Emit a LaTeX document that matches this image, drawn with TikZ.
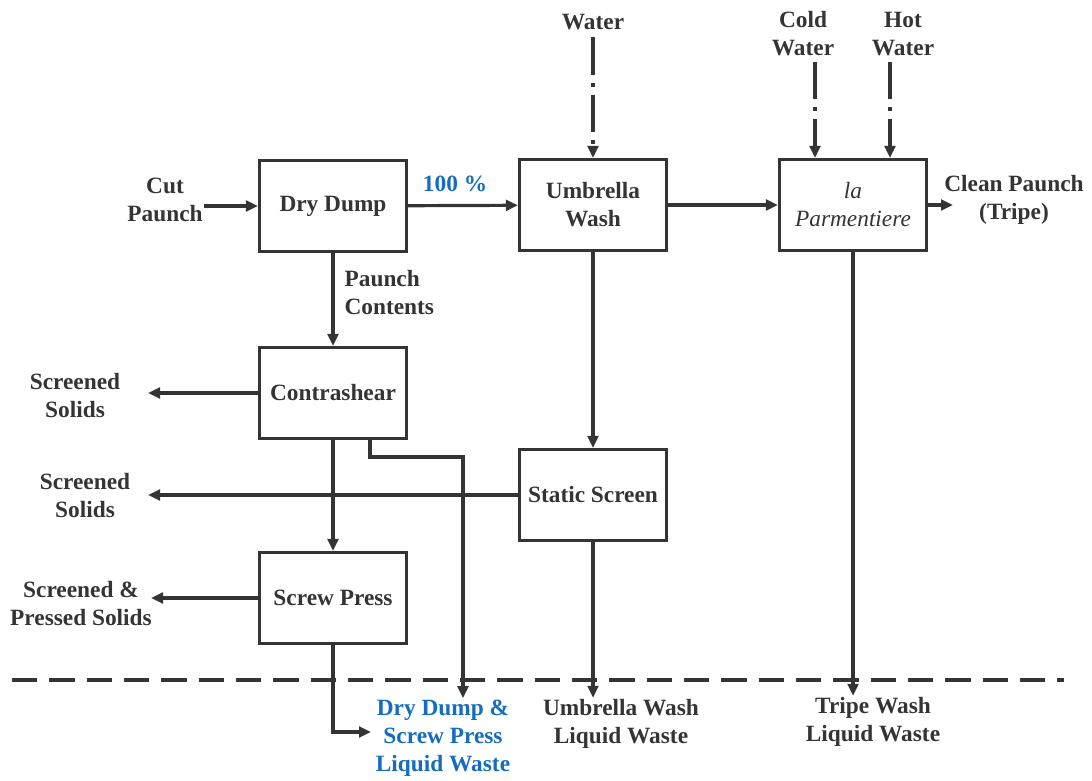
\documentclass[tikz,border=0pt]{standalone}
\usepackage{fontspec}
\setmainfont{Liberation Serif}
\usetikzlibrary{arrows.meta}
\definecolor{ink}{RGB}{52,52,52}
\definecolor{flowblue}{RGB}{22,108,190}
\begin{document}
\begin{tikzpicture}[x=0.75pt,y=-0.75pt,
  every node/.style={font=\fontsize{17.5}{21}\selectfont\bfseries, text=ink, align=center, inner sep=1pt},
  unit/.style={draw=ink, line width=2.6pt, minimum width=110pt, minimum height=68pt, inner sep=2pt},
  arr/.style={draw=ink, line width=2.4pt, -{Triangle[length=9pt,width=8pt]}},
  feed/.style={arr, dash pattern=on 28pt off 6pt on 3pt off 6pt},
  bluelbl/.style={text=flowblue}]
\useasboundingbox (0,0) rectangle (1092,781);

% process units
\node[unit] (dry)   at (333,206) {Dry Dump};
\node[unit] (umb)   at (593,205) {Umbrella\\Wash};
\node[unit] (parm)  at (853,205) {\normalfont\itshape la\\\normalfont\itshape Parmentiere};
\node[unit] (con)   at (333,393) {Contrashear};
\node[unit] (stat)  at (593,495) {Static Screen};
\node[unit] (screw) at (333,598) {Screw Press};

% stream labels
\node (cut)   at (165,200) {Cut\\Paunch};
\node[bluelbl] (pct) at (455,184) {100 \%};
\node (clean) at (1014,200) {Clean Paunch\\(Tripe)};
\node (water) at (593,22) {Water};
\node (cold)  at (803,34) {Cold\\Water};
\node (hot)   at (903,34) {Hot\\Water};
\node[anchor=west, align=left] (pc) at (343,293) {Paunch\\Contents};
\node (ss1)   at (75,396) {Screened\\Solids};
\node (ss2)   at (85,496) {Screened\\Solids};
\node (ssp)   at (81,604) {Screened \&\\Pressed Solids};
\node[bluelbl] (ddw) at (443,738) {Dry Dump \&\\Screw Press\\Liquid Waste};
\node (uww)   at (621,724) {Umbrella Wash\\Liquid Waste};
\node (tww)   at (873,722) {Tripe Wash\\Liquid Waste};

% helper points
\coordinate (cleanend) at (953,205);
\coordinate (cw) at (815,62);
\coordinate (hw) at (890,62);
\coordinate (solidsx) at (148,0);
\coordinate (pressx) at (151,0);
\coordinate (conout) at (370,440);
\coordinate (bend) at (463,457);
\coordinate (screwbend) at (333,732);
\coordinate (screwend) at (371,732);
\coordinate (lineL) at (12,680);
\coordinate (lineR) at (1064,680);

% main product line
\draw[arr] (dry.west -| cut.east) -- (dry.west);
\draw[arr] (dry) -- (umb);
\draw[arr] (umb) -- (parm);
\draw[arr] (parm.east) -- (cleanend);

% water feeds
\draw[feed] (water.south) ++(0,6) -- (umb.north);
\draw[feed] (cw) -- (cw |- parm.north);
\draw[feed] (hw) -- (hw |- parm.north);

% solids path
\draw[arr] (dry) -- (con);
\draw[arr] (con) -- (screw);
\draw[arr] (con.west) -- (con.west -| solidsx);
\draw[arr] (stat.west) -- (stat.west -| solidsx);
\draw[arr] (screw.west) -- (screw.west -| pressx);
\draw[arr] (umb) -- (stat);

% liquid waste streams
\draw[arr] (conout) |- (bend) -- (bend |- ddw.north);
\draw[arr] (screw.south) -- (screwbend) -- (screwend);
\draw[arr] (stat.south) -- (stat.south |- uww.north);
\draw[arr] (parm.south) -- (parm.south |- tww.north);

% boundary
\draw[draw=ink, line width=2.6pt, dash pattern=on 19pt off 9pt] (lineL) -- (lineR);
\end{tikzpicture}
\end{document}
